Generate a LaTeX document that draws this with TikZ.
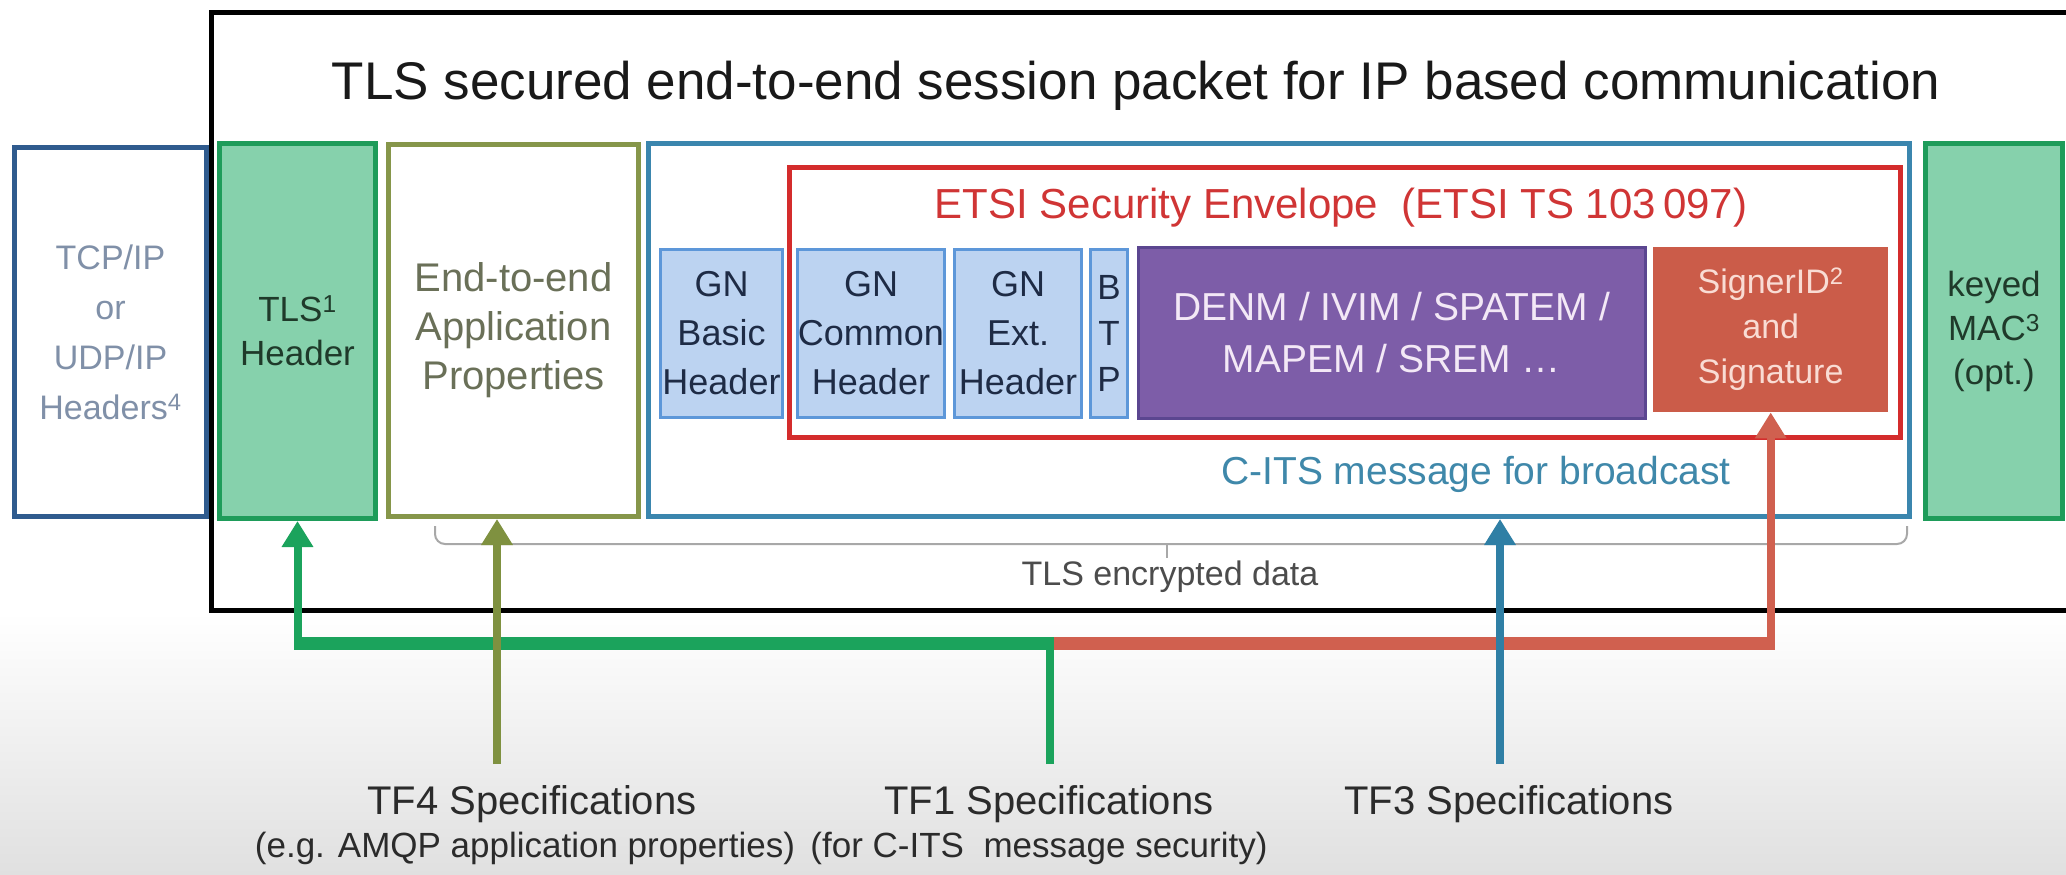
\documentclass[tikz,border=0pt]{standalone}
\usepackage{fontspec}
\setmainfont{Liberation Sans}
\usetikzlibrary{arrows.meta}
\definecolor{tcpblue}{HTML}{2F5B8E}
\definecolor{tcptext}{HTML}{8090A8}
\definecolor{tlsgreen}{HTML}{1E9C5A}
\definecolor{tlsfill}{HTML}{86D1AC}
\definecolor{tlstext}{HTML}{1F3A2A}
\definecolor{olive}{HTML}{86964A}
\definecolor{olivetext}{HTML}{6A7058}
\definecolor{citsblue}{HTML}{3B86AE}
\definecolor{citstext}{HTML}{3F88AA}
\definecolor{envred}{HTML}{D42C2C}
\definecolor{envtext}{HTML}{D03535}
\definecolor{gnfill}{HTML}{BCD3F1}
\definecolor{gnborder}{HTML}{5D97D9}
\definecolor{gntext}{HTML}{1E2B45}
\definecolor{denmfill}{HTML}{7D5DA8}
\definecolor{denmborder}{HTML}{5B4690}
\definecolor{denmtext}{HTML}{F3E8F6}
\definecolor{signfill}{HTML}{CB5C49}
\definecolor{signtext}{HTML}{F9DCD4}
\definecolor{agreen}{HTML}{1BA35C}
\definecolor{aolive}{HTML}{7F9140}
\definecolor{ablue}{HTML}{2F7FA5}
\definecolor{ared}{HTML}{D0604F}
\definecolor{bracketgray}{HTML}{A8A8A8}
\definecolor{labeltext}{HTML}{2B2B2B}
\definecolor{bggray}{HTML}{E0E0E0}
\begin{document}
\begin{tikzpicture}[x=1pt,y=-1pt,
  boxbase/.style={inner sep=0pt, anchor=north west, align=center},
  hdrbox/.style={boxbase, draw=gnborder, line width=3pt, fill=gnfill, text=gntext, font=\fontsize{36}{49}\selectfont},
  greenbox/.style={boxbase, draw=tlsgreen, line width=5pt, fill=tlsfill, text=tlstext, font=\fontsize{35}{44}\selectfont},
  arrowtip/.style={-{Triangle[width=30pt,length=26pt]}},
  conn/.style={line width=8pt, arrowtip},
  vline/.style={line width=8pt},
  hline/.style={line width=13pt, line cap=rect, shorten <=2.5pt, shorten >=2.5pt},
  lbl/.style={text=labeltext, inner sep=0pt}
]
\useasboundingbox (0,0) rectangle (2066,875);
\fill[white] (0,0) rectangle (2066,875);
\shade[top color=white, bottom color=bggray] (0,612) rectangle (2066,875);

% outer packet frame
\draw[line width=5pt, black] (2066,13) -- (211,13) -- (211,610) -- (2066,610);
\node[text=black!90, font=\fontsize{53}{60}\selectfont, inner sep=0pt] (title) at (1136,86) {TLS secured end-to-end session packet for IP based communication};

% boxes
\node[boxbase, draw=tcpblue, line width=5pt, fill=white, minimum width=192pt, minimum height=369pt, text=tcptext, font=\fontsize{34}{50}\selectfont] (tcp) at (12,145) {TCP/IP\\or\\UDP/IP\\Headers\textsuperscript{4}};
\node[greenbox, minimum width=156pt, minimum height=375pt] (tls) at (217,141) {TLS\textsuperscript{1}\\Header};
\node[boxbase, draw=olive, line width=5pt, fill=white, minimum width=250pt, minimum height=372pt, text=olivetext, font=\fontsize{40}{49}\selectfont] (app) at (386,142) {End-to-end\\Application\\Properties};
\node[boxbase, draw=citsblue, line width=5pt, fill=white, minimum width=1261pt, minimum height=373pt] (cits) at (646,141) {};
\node[boxbase, draw=envred, line width=4.5pt, minimum width=1111pt, minimum height=270pt] (env) at (787,165) {};
\node[greenbox, minimum width=137pt, minimum height=375pt] (mac) at (1923,141) {keyed\\MAC\textsuperscript{3}\\(opt.)};

\node[text=envtext, font=\fontsize{42}{48}\selectfont, inner sep=0pt] (envlbl) at (1341,208) {ETSI Security Envelope\ \ (ETSI TS 103\,097)};
\node[text=citstext, font=\fontsize{39}{46}\selectfont, inner sep=0pt] (citslbl) at (1476,474) {C-ITS message for broadcast};

\node[hdrbox, minimum width=122pt, minimum height=168pt] (gnb) at (659,248) {GN\\Basic\\Header};
\node[hdrbox, minimum width=147pt, minimum height=168pt] (gnc) at (796,248) {GN\\Common\\Header};
\node[hdrbox, minimum width=127pt, minimum height=168pt] (gne) at (953,248) {GN\\Ext.\\Header};
\node[hdrbox, minimum width=37pt, minimum height=168pt, font=\fontsize{35}{46}\selectfont] (btp) at (1089,248) {B\\T\\P};
\node[boxbase, draw=denmborder, line width=2.5pt, fill=denmfill, text=denmtext, minimum width=507pt, minimum height=171pt, font=\fontsize{39}{52}\selectfont] (denm) at (1137,246) {DENM / IVIM / SPATEM /\\MAPEM / SREM \dots};
\node[boxbase, fill=signfill, text=signtext, minimum width=235pt, minimum height=165pt, font=\fontsize{34}{45}\selectfont] (sign) at (1653,247) {SignerID\textsuperscript{2}\\and\\Signature};

% TLS encrypted data bracket
\coordinate (brL) at (435,526);
\coordinate (brR) at (1907,526);
\coordinate (brM) at (1167,544);
\draw[bracketgray, line width=2pt, rounded corners=10pt] (brL) -- (brL |- brM) -- (brR |- brM) -- (brR);
\draw[bracketgray, line width=2pt] (brM) -- ++(0,14);
\node[lbl, text=black!70, font=\fontsize{34}{40}\selectfont] (enc) at (1170,577) {TLS encrypted data};

% bottom labels
\node[lbl, font=\fontsize{40}{46}\selectfont] (tf4) at (532,804) {TF4 Specifications};
\node[lbl, font=\fontsize{35}{40}\selectfont] (tf4sub) at (525,848) {(e.g. AMQP application properties)};
\node[lbl, font=\fontsize{40}{46}\selectfont] (tf1) at (1049,804) {TF1 Specifications};
\node[lbl, font=\fontsize{35}{40}\selectfont] (tf1sub) at (1039,848) {(for C-ITS\ \ message security)};
\node[lbl, font=\fontsize{40}{46}\selectfont] (tf3) at (1509,804) {TF3 Specifications};

% connectors
\coordinate (tf4top) at (497,764);
\coordinate (tf1top) at (1050,764);
\coordinate (tf3top) at (1500,764);
\coordinate (junc) at (1050,643);
\draw[hline, ared] (junc) -- (sign.south |- junc);
\draw[conn, ared] (sign.south |- junc) -- (sign.south);
\draw[hline, agreen] (junc) -- (tls.south |- junc);
\draw[vline, agreen] (tf1top) -- (junc);
\draw[conn, agreen] (tls.south |- junc) -- (tls.south);
\draw[conn, aolive] (tf4top) -- (tf4top |- app.south);
\draw[conn, ablue] (tf3top) -- (tf3top |- cits.south);
\end{tikzpicture}
\end{document}
